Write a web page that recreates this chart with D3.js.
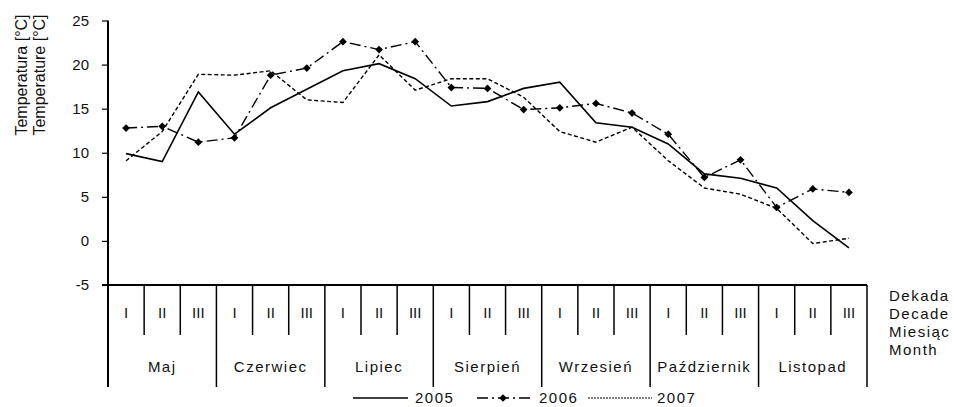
<!DOCTYPE html>
<html>
<head>
<meta charset="utf-8">
<script src="https://cdn.jsdelivr.net/npm/d3@7"></script>
<style>
  body { margin: 0; background: #fff; }
  svg text { font-family: "Liberation Sans", Arial, sans-serif; fill: #111; }
</style>
</head>
<body>
<svg id="chart" width="954" height="407"></svg>
<script>
var decades = ['I', 'II', 'III'];
var months = ['Maj', 'Czerwiec', 'Lipiec', 'Sierpień', 'Wrzesień', 'Październik', 'Listopad'];
var yTicks = [-5, 0, 5, 10, 15, 20, 25];

// temperature per decade, May I .. November III
var t2005 = [9.9, 9.0, 16.9, 12.1, 15.1, 17.2, 19.3, 20.1, 18.4, 15.3, 15.8, 17.3, 18.0, 13.4, 12.9, 11.0, 7.6, 7.1, 6.0, 2.3, -0.8];
var t2006 = [12.8, 13.0, 11.2, 11.7, 18.8, 19.6, 22.6, 21.7, 22.6, 17.4, 17.3, 14.9, 15.1, 15.6, 14.5, 12.1, 7.2, 9.2, 3.8, 5.9, 5.5];
var t2007 = [9.1, 12.4, 18.9, 18.8, 19.3, 16.0, 15.7, 21.1, 17.1, 18.4, 18.4, 16.3, 12.4, 11.2, 12.9, 9.1, 6.0, 5.3, 3.7, -0.3, 0.3];
var seriesNames = ['2005', '2006', '2007'];
var rightLabels = ['Dekada', 'Decade', 'Miesiąc', 'Month'];
var yTitle = ['Temperatura [°C]', 'Temperature [°C]'];

var svg = d3.select('#chart');

var mLeft = 108, mRight = 867, mTop = 20.5, mBottom = 285;

var slots = d3.range(months.length * decades.length);
var x = d3.scaleBand().domain(slots).range([mLeft, mRight]);
var y = d3.scaleLinear().domain([-5, 25]).range([mBottom, mTop]);
var cx = i => x(i) + x.bandwidth() / 2;

// y axis
var yAxis = svg.append('g')
  .attr('transform', 'translate(' + mLeft + ',0)')
  .call(d3.axisLeft(y).tickValues(yTicks).tickFormat(d => String(d)).tickSize(6).tickPadding(13));
yAxis.select('.domain').remove();
yAxis.selectAll('line').attr('stroke', '#000').attr('stroke-width', 1.2);
yAxis.selectAll('text')
  .attr('font-size', 15)
  .attr('font-family', '"Liberation Sans", Arial, sans-serif')
  .attr('fill', '#111');

svg.append('line')
  .attr('x1', mLeft).attr('x2', mLeft)
  .attr('y1', y(25)).attr('y2', 387)
  .attr('stroke', '#000').attr('stroke-width', 2);

// x axis with decade / month table
svg.append('line')
  .attr('x1', mLeft - 6).attr('x2', mRight)
  .attr('y1', mBottom).attr('y2', mBottom)
  .attr('stroke', '#000').attr('stroke-width', 2);

var bounds = d3.range(1, slots.length + 1);
svg.selectAll('.sep')
  .data(bounds)
  .enter()
    .append('line')
    .attr('class', 'sep')
    .attr('x1', d => d === slots.length ? mRight : x(d))
    .attr('x2', d => d === slots.length ? mRight : x(d))
    .attr('y1', mBottom)
    .attr('y2', d => d % 3 === 0 ? 387 : 335)
    .attr('stroke', '#000')
    .attr('stroke-width', 1.5);

svg.selectAll('.dec')
  .data(slots)
  .enter()
    .append('text')
    .attr('class', 'dec')
    .attr('x', d => cx(d))
    .attr('y', 313)
    .attr('dy', '0.35em')
    .attr('text-anchor', 'middle')
    .attr('font-size', 15)
    .text(d => decades[d % 3]);

svg.selectAll('.mon')
  .data(months)
  .enter()
    .append('text')
    .attr('class', 'mon')
    .attr('x', (d, i) => x(i * 3) + x.bandwidth() * 1.5)
    .attr('y', 367)
    .attr('dy', '0.35em')
    .attr('text-anchor', 'middle')
    .attr('font-size', 15)
    .attr('letter-spacing', 1.5)
    .text(d => d);

svg.selectAll('.rlab')
  .data(rightLabels)
  .enter()
    .append('text')
    .attr('class', 'rlab')
    .attr('x', 889)
    .attr('y', (d, i) => 296 + i * 18)
    .attr('dy', '0.35em')
    .attr('font-size', 15)
    .attr('letter-spacing', 1.5)
    .text(d => d);

// y title, two rotated lines
svg.selectAll('.ytitle')
  .data(yTitle)
  .enter()
    .append('text')
    .attr('class', 'ytitle')
    .attr('transform', (d, i) => 'translate(' + (27 + i * 18) + ',75) rotate(-90)')
    .attr('text-anchor', 'middle')
    .attr('font-size', 16)
    .text(d => d);

// lines
var styles = [
  { dash: null, width: 1.6 },
  { dash: '11,4,2,4', width: 1.4 },
  { dash: '4,2.5', width: 1.4 }
];
var data = [t2005, t2006, t2007];

var line = d3.line()
  .x((d, i) => cx(i))
  .y(d => y(d));

svg.selectAll('.series')
  .data(data)
  .enter()
    .append('path')
    .attr('class', 'series')
    .attr('d', d => line(d))
    .attr('fill', 'none')
    .attr('stroke', '#000')
    .attr('stroke-width', (d, i) => styles[i].width)
    .attr('stroke-dasharray', (d, i) => styles[i].dash);

var diamond = d3.symbol().type(d3.symbolSquare).size(30);
svg.selectAll('.mark')
  .data(t2006)
  .enter()
    .append('path')
    .attr('class', 'mark')
    .attr('d', diamond)
    .attr('transform', (d, i) => 'translate(' + cx(i) + ',' + y(d) + ') rotate(45)')
    .attr('fill', '#000');

// legend
var legendX = [353, 477, 588];
var leg = svg.selectAll('.leg')
  .data(seriesNames)
  .enter()
    .append('g')
    .attr('class', 'leg')
    .attr('transform', (d, i) => 'translate(' + legendX[i] + ',398)');

leg.append('line')
  .attr('x1', 0).attr('x2', (d, i) => i === 2 ? 64 : 55)
  .attr('stroke', '#000')
  .attr('stroke-width', (d, i) => i === 2 ? 1 : styles[i].width)
  .attr('stroke-dasharray', (d, i) => i === 2 ? '2,1' : styles[i].dash);

leg.filter((d, i) => i === 1)
  .append('path')
  .attr('d', diamond)
  .attr('transform', 'translate(26,0) rotate(45)')
  .attr('fill', '#000');

leg.append('text')
  .attr('x', (d, i) => i === 2 ? 69 : 62)
  .attr('dy', '0.35em')
  .attr('font-size', 15)
  .attr('letter-spacing', 1.5)
  .text(d => d);
</script>
</body>
</html>
